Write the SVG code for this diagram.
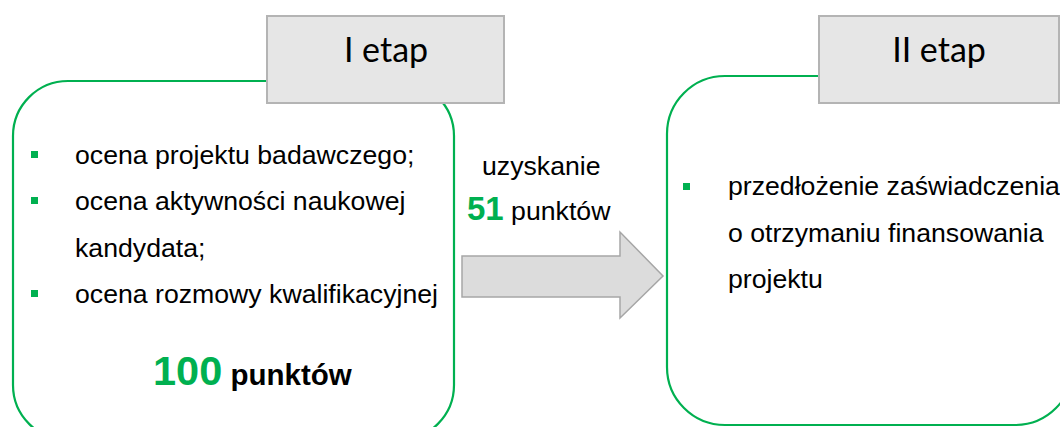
<svg xmlns="http://www.w3.org/2000/svg" width="1060" height="427" viewBox="0 0 1060 427">
  <style>
    .frame { fill: #ffffff; stroke: #00b050; stroke-width: 2.2; }
    .label-box { fill: #e6e6e6; stroke: #b4b4b4; stroke-width: 2; }
    .label { font-family: Lato, "Liberation Sans", sans-serif; font-size: 34px; fill: #000; text-anchor: middle; }
    .body { font-family: "Liberation Sans", Arial, sans-serif; font-size: 26.67px; fill: #000; }
    .bullet { fill: #00b050; }
    .green { fill: #00b050; font-weight: bold; }
    .arrow { fill: #dcdcdc; stroke: #a6a6a6; stroke-width: 1.5; }
  </style>
  <rect width="1060" height="427" fill="#ffffff"/>

  <g id="stage1">
    <rect class="frame" x="13" y="81" width="441" height="359" rx="55" ry="55"/>
    <rect class="bullet" x="31" y="151" width="7" height="7"/>
    <rect class="bullet" x="31" y="197" width="7" height="7"/>
    <rect class="bullet" x="31" y="290" width="7" height="7"/>
    <text class="body" x="75" y="164" font-size="27.2px">ocena projektu badawczego;</text>
    <text class="body" x="75" y="210" font-size="27.2px">ocena aktywności naukowej</text>
    <text class="body" x="75" y="257" font-size="27.2px">kandydata;</text>
    <text class="body" x="75" y="303" font-size="27.2px">ocena rozmowy kwalifikacyjnej</text>
    <text class="body" x="153" y="385"><tspan class="green" font-size="41.5px">100</tspan><tspan font-weight="bold" font-size="29.5px"> punktów</tspan></text>
  </g>

  <g id="stage1-label">
    <rect class="label-box" x="267" y="16" width="237" height="87"/>
    <text class="label" x="386" y="62">I etap</text>
  </g>

  <g id="stage2">
    <rect class="frame" x="667" y="76" width="406" height="349" rx="58" ry="58"/>
    <rect class="bullet" x="683" y="183" width="7" height="7"/>
    <text class="body" x="728" y="195">przedłożenie zaświadczenia</text>
    <text class="body" x="728" y="242">o otrzymaniu finansowania</text>
    <text class="body" x="728" y="288">projektu</text>
  </g>

  <g id="stage2-label">
    <rect class="label-box" x="819" y="16" width="240" height="87"/>
    <text class="label" x="939" y="62">II etap</text>
  </g>

  <g id="connectors">
    <polygon class="arrow" points="462,256 620,256 620,232 663,276 620,318 620,297 462,297"/>
    <text class="body" x="482" y="175" font-size="25.5px">uzyskanie</text>
    <text class="body" x="467" y="220" font-size="26px"><tspan class="green" font-size="33px">51</tspan> punktów</text>
  </g>
</svg>
